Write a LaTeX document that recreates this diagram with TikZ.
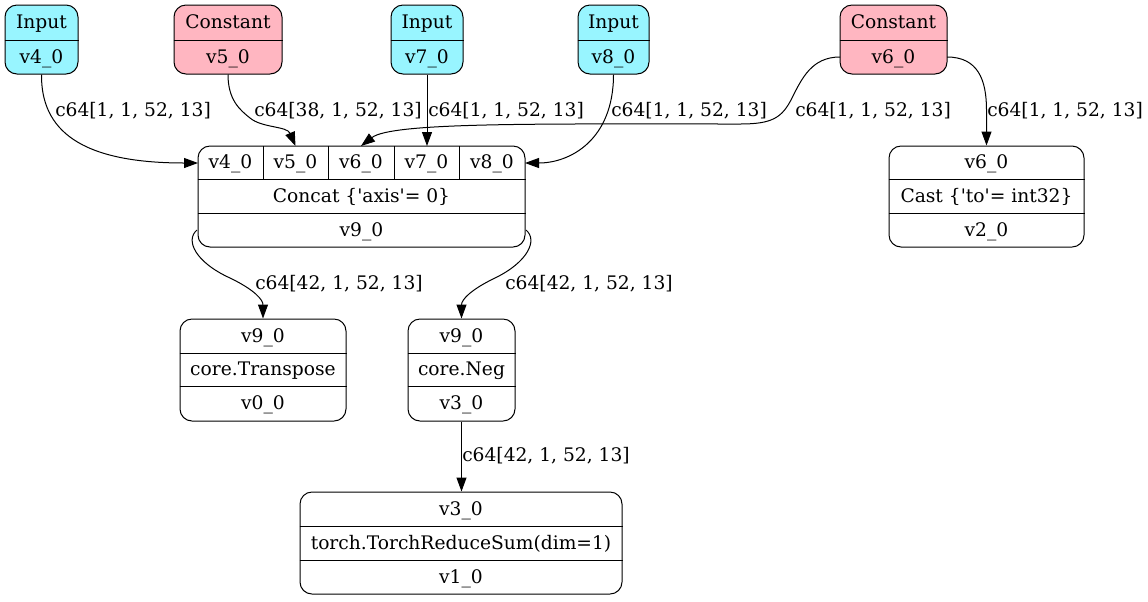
\documentclass[tikz,border=0pt]{standalone}
\usepackage{fontspec}
\setmainfont{DejaVu Serif}
\usetikzlibrary{arrows.meta,fit}
\definecolor{inputc}{RGB}{152,245,255}
\definecolor{constc}{RGB}{255,182,193}
\newcommand{\sq}{\textquotesingle}
\begin{document}
\begin{tikzpicture}[x=0.75pt,y=-0.75pt,
  font=\fontsize{14pt}{17pt}\selectfont,
  rec/.style={draw, line width=0.75pt, rounded corners=9pt, inner sep=0pt},
  split/.style={line width=0.75pt},
  txt/.style={anchor=base, inner sep=0pt},
  lbl/.style={anchor=base west, inner sep=0pt},
  arr/.style={line width=0.75pt, -{Triangle[length=10.5pt,width=7.5pt]}}]
\fill[white] (0,0) rectangle (1148,601);
\useasboundingbox (0,0) rectangle (1148,601);

% ---- source nodes ----
\node[rec, fill=inputc, fit={(5,5)(78,74)}] (v4) {};
\draw[split] (v4.west |- 0,40) -- (v4.east |- 0,40);
\node[txt] (v4a) at (41.5,28.5) {Input};
\node[txt] (v4b) at (41.5,63) {v4\_0};

\node[rec, fill=constc, fit={(174,5)(282,74)}] (v5) {};
\draw[split] (v5.west |- 0,40) -- (v5.east |- 0,40);
\node[txt] (v5a) at (228,28.5) {Constant};
\node[txt] (v5b) at (228,63) {v5\_0};

\node[rec, fill=inputc, fit={(391,5)(463,74)}] (v7) {};
\draw[split] (v7.west |- 0,40) -- (v7.east |- 0,40);
\node[txt] (v7a) at (427,28.5) {Input};
\node[txt] (v7b) at (427,63) {v7\_0};

\node[rec, fill=inputc, fit={(578,5)(649,74)}] (v8) {};
\draw[split] (v8.west |- 0,40) -- (v8.east |- 0,40);
\node[txt] (v8a) at (613.5,28.5) {Input};
\node[txt] (v8b) at (613.5,63) {v8\_0};

\node[rec, fill=constc, fit={(840,5)(947,74)}] (v6) {};
\draw[split] (v6.west |- 0,40) -- (v6.east |- 0,40);
\node[txt] (v6a) at (893.5,28.5) {Constant};
\node[txt] (v6b) at (893.5,63) {v6\_0};

% ---- Concat ----
\node[rec, fit={(198,146)(525,247)}] (cat) {};
\draw[split] (cat.west |- 0,179) -- (cat.east |- 0,179);
\draw[split] (cat.west |- 0,213) -- (cat.east |- 0,213);
\foreach \x in {263,328,394,459} \draw[split] (\x,146) -- (\x,179);
\node[txt] (cat4) at (230.5,168.5) {v4\_0};
\node[txt] (cat5) at (295.5,168.5) {v5\_0};
\node[txt] (cat6) at (361,168.5) {v6\_0};
\node[txt] (cat7) at (426.5,168.5) {v7\_0};
\node[txt] (cat8) at (492,168.5) {v8\_0};
\node[txt] (catop) at (361.5,202) {Concat \{\sq axis\sq= 0\}};
\node[txt] (catout) at (361.5,236) {v9\_0};

% ---- Cast ----
\node[rec, fit={(889,146)(1084,247)}] (cast) {};
\draw[split] (cast.west |- 0,179) -- (cast.east |- 0,179);
\draw[split] (cast.west |- 0,213) -- (cast.east |- 0,213);
\node[txt] (casta) at (986.5,168.5) {v6\_0};
\node[txt] (castop) at (986.5,202) {Cast \{\sq to\sq= int32\}};
\node[txt] (castout) at (986.5,236) {v2\_0};

% ---- Transpose ----
\node[rec, fit={(180,319)(346,421)}] (tr) {};
\draw[split] (tr.west |- 0,353) -- (tr.east |- 0,353);
\draw[split] (tr.west |- 0,386) -- (tr.east |- 0,386);
\node[txt] (tra) at (263,342) {v9\_0};
\node[txt] (trop) at (263,375.5) {core.Transpose};
\node[txt] (trout) at (263,409.5) {v0\_0};

% ---- Neg ----
\node[rec, fit={(408,319)(515,421)}] (neg) {};
\draw[split] (neg.west |- 0,353) -- (neg.east |- 0,353);
\draw[split] (neg.west |- 0,386) -- (neg.east |- 0,386);
\node[txt] (nega) at (461.5,342) {v9\_0};
\node[txt] (negop) at (461.5,375.5) {core.Neg};
\node[txt] (negout) at (461.5,409.5) {v3\_0};

% ---- ReduceSum ----
\node[rec, fit={(300,492)(622,594)}] (rs) {};
\draw[split] (rs.west |- 0,526) -- (rs.east |- 0,526);
\draw[split] (rs.west |- 0,560) -- (rs.east |- 0,560);
\node[txt] (rsa) at (461,515) {v3\_0};
\node[txt] (rsop) at (461,549) {torch.TorchReduceSum(dim=1)};
\node[txt] (rsout) at (461,583) {v1\_0};

% ---- ports ----
\coordinate (cat-l) at (198,163);
\coordinate (cat-r) at (525,163);
\coordinate (cat-p5) at (295.5,146);
\coordinate (cat-p6) at (361,146);
\coordinate (cat-p7) at (427,146);
\coordinate (cat-bl) at (197,230);
\coordinate (cat-br) at (526,230);
\coordinate (v6-l) at (840,57);
\coordinate (v6-r) at (947,57);

% ---- connectors ----
\draw[arr] (v4.south) .. controls (41,130) and (80,163) .. (cat-l);
\draw[arr] (v5.south) .. controls (228,100) and (240,110) .. (250,118)
  .. controls (262,128) and (287,126) .. (cat-p5);
\draw[arr] (v7.south) -- (cat-p7);
\draw[arr] (v8.south) .. controls (613.5,140) and (570,163) .. (cat-r);
\draw[arr] (v6-l) .. controls (812,57) and (802,78) .. (792,98)
  .. controls (782,118) and (772,124) .. (740,124)
  .. controls (540,124) and (392,122) .. (cat-p6);
\draw[arr] (v6-r) .. controls (978,57) and (986.5,80) .. (986.5,110) -- (cast.north);
\draw[arr] (cat-bl) .. controls (185,240) and (195,262) .. (230,278)
  .. controls (255,290) and (263,300) .. (tr.north);
\draw[arr] (cat-br) .. controls (538,240) and (528,262) .. (495,278)
  .. controls (470,290) and (461.5,300) .. (neg.north);
\draw[arr] (neg.south) -- (rs.north -| neg.south);

% ---- edge labels ----
\node[lbl] (l1) at (55,116.5) {c64[1, 1, 52, 13]};
\node[lbl] (l2) at (254,116.5) {c64[38, 1, 52, 13]};
\node[lbl] (l3) at (428,116.5) {c64[1, 1, 52, 13]};
\node[lbl] (l4) at (611,116.5) {c64[1, 1, 52, 13]};
\node[lbl] (l5) at (795,116.5) {c64[1, 1, 52, 13]};
\node[lbl] (l6) at (987,116.5) {c64[1, 1, 52, 13]};
\node[lbl] (l7) at (255,289.5) {c64[42, 1, 52, 13]};
\node[lbl] (l8) at (505,289.5) {c64[42, 1, 52, 13]};
\node[lbl] (l9) at (462,461.5) {c64[42, 1, 52, 13]};
\end{tikzpicture}
\end{document}
